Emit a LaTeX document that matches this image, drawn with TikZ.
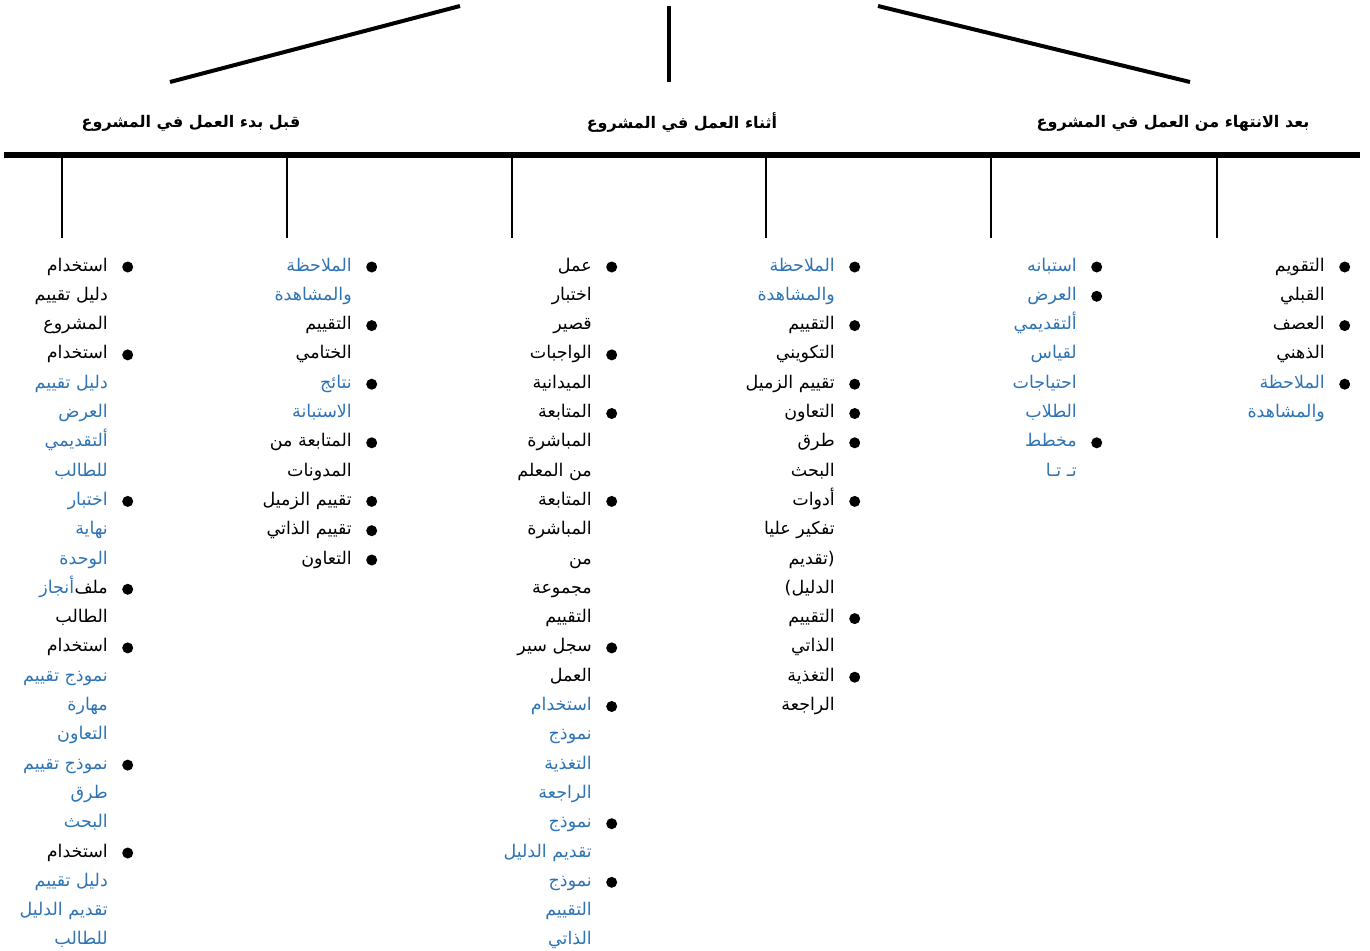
\documentclass[tikz,border=0pt]{standalone}
\usepackage{fontspec}
\usepackage{tikz}
\usetikzlibrary{positioning}
\newfontfamily\arabicfont[Script=Arabic]{DejaVu Sans}
\TeXXeTstate=1
\definecolor{linkblue}{RGB}{46,116,181}
\newcommand\entryhue{black}
\tikzset{
  entry/.style={anchor=east, inner sep=0pt, text height=14pt, text depth=6pt,
    font=\arabicfont\fontsize{17.5}{20}\selectfont,
    execute at begin node=\color{\entryhue}\beginR, execute at end node=\endR},
  beneath/.style={below = of #1.east, anchor=east},
  bulletdot/.style={circle, fill=black, draw=none, inner sep=0pt, minimum size=11pt},
  bulleted/.style={label={[bulletdot, label distance=14pt]east:}},
  link/.code={\def\entryhue{linkblue}},
  head/.style={inner sep=0pt, font=\arabicfont\bfseries\fontsize{16}{18}\selectfont,
    execute at begin node=\beginR, execute at end node=\endR},
  branch/.style={line width=4pt},
  bar/.style={line width=6.5pt},
  drop/.style={line width=2.5pt}
}
\begin{document}
\begin{tikzpicture}[x=1pt, y=-1pt, node distance=29.3pt, on grid]
\useasboundingbox (0,0) rectangle (1370,950);
\coordinate (tl) at (460,6);
\coordinate (bl) at (170,82);
\coordinate (tm) at (669,6);
\coordinate (bm) at (669,82);
\coordinate (tr) at (878,6);
\coordinate (br) at (1190,82);
\draw [branch] (tl) -- (bl);
\draw [branch] (tm) -- (bm);
\draw [branch] (tr) -- (br);
\node (hbefore) [head] at (191,123) {قبل بدء العمل في المشروع};
\node (hduring) [head] at (682,123) {أثناء العمل في المشروع};
\node (hafter) [head] at (1173,123) {بعد الانتهاء من العمل في المشروع};
\coordinate (barl) at (4,155);
\coordinate (barr) at (1360,155);
\draw [bar] (barl) -- (barr);
\coordinate (ka) at (1217,155); \coordinate (ea) at (1217,238);
\coordinate (kb) at (991,155);  \coordinate (eb) at (991,238);
\coordinate (kc) at (766,155);  \coordinate (ec) at (766,238);
\coordinate (kd) at (512,155);  \coordinate (ed) at (512,238);
\coordinate (ke) at (287,155);  \coordinate (ee) at (287,238);
\coordinate (kf) at (62,155);   \coordinate (ef) at (62,238);
\draw [drop] (ka) -- (ea);
\draw [drop] (kb) -- (eb);
\draw [drop] (kc) -- (ec);
\draw [drop] (kd) -- (ed);
\draw [drop] (ke) -- (ee);
\draw [drop] (kf) -- (ef);
% after the project
\node (a1) [entry, bulleted] at (1325,267) {التقويم};
\node (a2) [entry, beneath=a1] {القبلي};
\node (a3) [entry, bulleted, beneath=a2] {العصف};
\node (a4) [entry, beneath=a3] {الذهني};
\node (a5) [entry, bulleted, link, beneath=a4] {الملاحظة};
\node (a6) [entry, link, beneath=a5] {والمشاهدة};
\node (b1) [entry, bulleted, link] at (1077,267) {استبانه};
\node (b2) [entry, bulleted, link, beneath=b1] {العرض};
\node (b3) [entry, link, beneath=b2] {ألتقديمي};
\node (b4) [entry, link, beneath=b3] {لقياس};
\node (b5) [entry, link, beneath=b4] {احتياجات};
\node (b6) [entry, link, beneath=b5] {الطلاب};
\node (b7) [entry, bulleted, link, beneath=b6] {مخطط};
\node (b8) [entry, link, beneath=b7] {تـ تـا};
% during the project
\node (c1) [entry, bulleted, link] at (835,267) {الملاحظة};
\node (c2) [entry, link, beneath=c1] {والمشاهدة};
\node (c3) [entry, bulleted, beneath=c2] {التقييم};
\node (c4) [entry, beneath=c3] {التكويني};
\node (c5) [entry, bulleted, beneath=c4] {تقييم الزميل};
\node (c6) [entry, bulleted, beneath=c5] {التعاون};
\node (c7) [entry, bulleted, beneath=c6] {طرق};
\node (c8) [entry, beneath=c7] {البحث};
\node (c9) [entry, bulleted, beneath=c8] {أدوات};
\node (c10) [entry, beneath=c9] {تفكير عليا};
\node (c11) [entry, beneath=c10] {(تقديم};
\node (c12) [entry, beneath=c11] {الدليل)};
\node (c13) [entry, bulleted, beneath=c12] {التقييم};
\node (c14) [entry, beneath=c13] {الذاتي};
\node (c15) [entry, bulleted, beneath=c14] {التغذية};
\node (c16) [entry, beneath=c15] {الراجعة};
\node (d1) [entry, bulleted] at (592,267) {عمل};
\node (d2) [entry, beneath=d1] {اختبار};
\node (d3) [entry, beneath=d2] {قصير};
\node (d4) [entry, bulleted, beneath=d3] {الواجبات};
\node (d5) [entry, beneath=d4] {الميدانية};
\node (d6) [entry, bulleted, beneath=d5] {المتابعة};
\node (d7) [entry, beneath=d6] {المباشرة};
\node (d8) [entry, beneath=d7] {من المعلم};
\node (d9) [entry, bulleted, beneath=d8] {المتابعة};
\node (d10) [entry, beneath=d9] {المباشرة};
\node (d11) [entry, beneath=d10] {من};
\node (d12) [entry, beneath=d11] {مجموعة};
\node (d13) [entry, beneath=d12] {التقييم};
\node (d14) [entry, bulleted, beneath=d13] {سجل سير};
\node (d15) [entry, beneath=d14] {العمل};
\node (d16) [entry, bulleted, link, beneath=d15] {استخدام};
\node (d17) [entry, link, beneath=d16] {نموذج};
\node (d18) [entry, link, beneath=d17] {التغذية};
\node (d19) [entry, link, beneath=d18] {الراجعة};
\node (d20) [entry, bulleted, link, beneath=d19] {نموذج};
\node (d21) [entry, link, beneath=d20] {تقديم الدليل};
\node (d22) [entry, bulleted, link, beneath=d21] {نموذج};
\node (d23) [entry, link, beneath=d22] {التقييم};
\node (d24) [entry, link, beneath=d23] {الذاتي};
% before the project
\node (e1) [entry, bulleted, link] at (352,267) {الملاحظة};
\node (e2) [entry, link, beneath=e1] {والمشاهدة};
\node (e3) [entry, bulleted, beneath=e2] {التقييم};
\node (e4) [entry, beneath=e3] {الختامي};
\node (e5) [entry, bulleted, link, beneath=e4] {نتائج};
\node (e6) [entry, link, beneath=e5] {الاستبانة};
\node (e7) [entry, bulleted, beneath=e6] {المتابعة من};
\node (e8) [entry, beneath=e7] {المدونات};
\node (e9) [entry, bulleted, beneath=e8] {تقييم الزميل};
\node (e10) [entry, bulleted, beneath=e9] {تقييم الذاتي};
\node (e11) [entry, bulleted, beneath=e10] {التعاون};
\node (f1) [entry, bulleted] at (108,267) {استخدام};
\node (f2) [entry, beneath=f1] {دليل تقييم};
\node (f3) [entry, beneath=f2] {المشروع};
\node (f4) [entry, bulleted, beneath=f3] {استخدام};
\node (f5) [entry, link, beneath=f4] {دليل تقييم};
\node (f6) [entry, link, beneath=f5] {العرض};
\node (f7) [entry, link, beneath=f6] {ألتقديمي};
\node (f8) [entry, link, beneath=f7] {للطالب};
\node (f9) [entry, bulleted, link, beneath=f8] {اختبار};
\node (f10) [entry, link, beneath=f9] {نهاية};
\node (f11) [entry, link, beneath=f10] {الوحدة};
\node (f12) [entry, bulleted, beneath=f11] {ملف};
\node (f12b) [entry, link] at (f12.west) {أنجاز};
\node (f13) [entry, beneath=f12] {الطالب};
\node (f14) [entry, bulleted, beneath=f13] {استخدام};
\node (f15) [entry, link, beneath=f14] {نموذج تقييم};
\node (f16) [entry, link, beneath=f15] {مهارة};
\node (f17) [entry, link, beneath=f16] {التعاون};
\node (f18) [entry, bulleted, link, beneath=f17] {نموذج تقييم};
\node (f19) [entry, link, beneath=f18] {طرق};
\node (f20) [entry, link, beneath=f19] {البحث};
\node (f21) [entry, bulleted, beneath=f20] {استخدام};
\node (f22) [entry, link, beneath=f21] {دليل تقييم};
\node (f23) [entry, link, beneath=f22] {تقديم الدليل};
\node (f24) [entry, link, beneath=f23] {للطالب};
\end{tikzpicture}
\end{document}
